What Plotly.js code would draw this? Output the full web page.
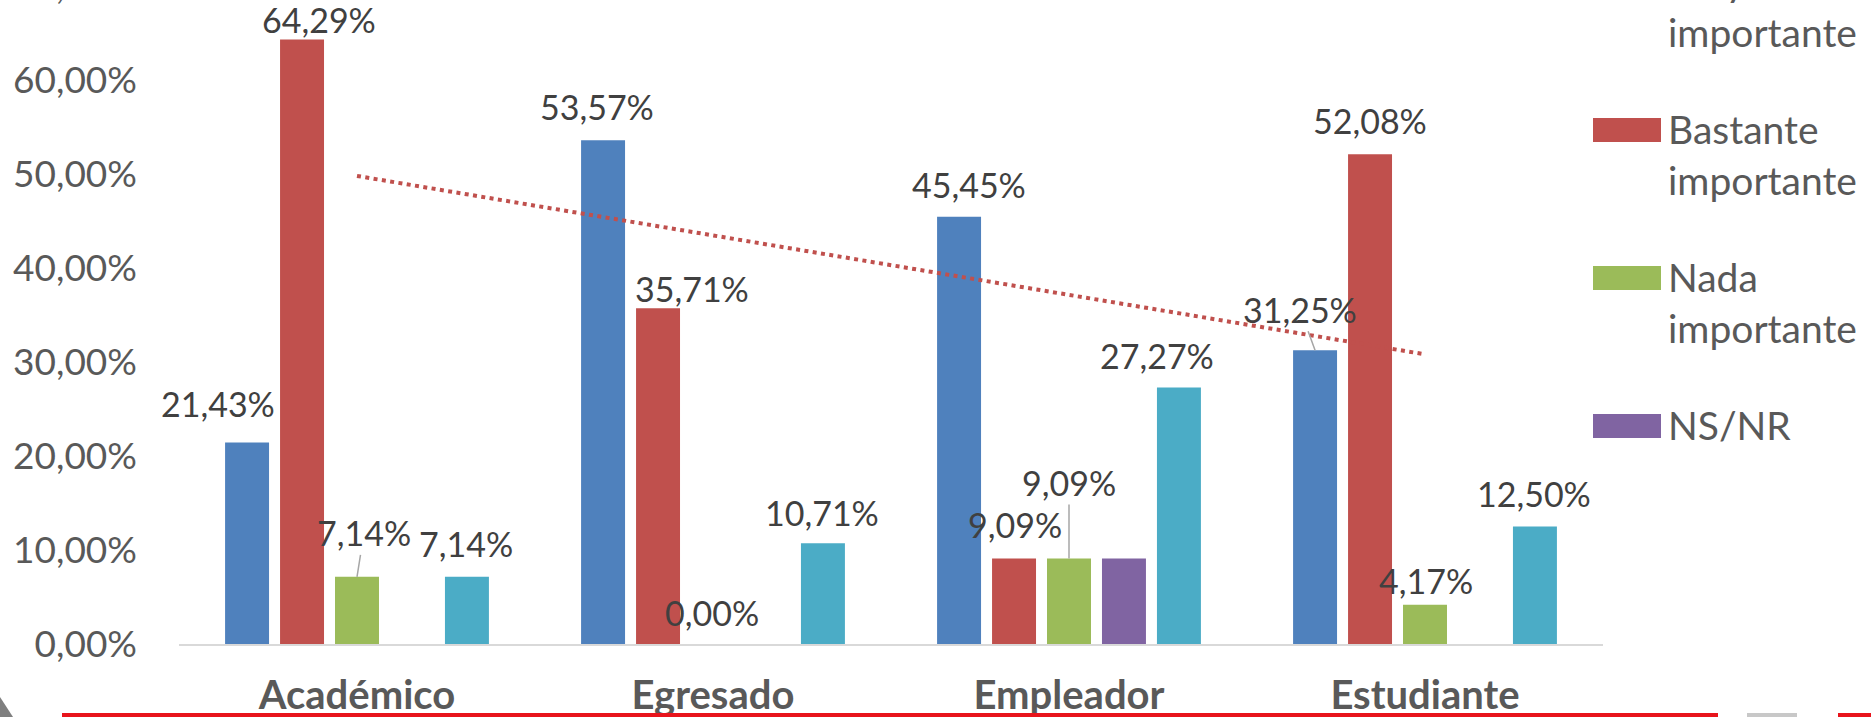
<!DOCTYPE html>
<html>
<head>
<meta charset="utf-8">
<script src="https://cdn.plot.ly/plotly-3.0.1.min.js"></script>
<style>
  html, body { margin: 0; padding: 0; width: 1871px; height: 717px; overflow: hidden; background: #ffffff; }
  #chart { position: absolute; left: 0; top: -60px; width: 1871px; height: 777px; }
  .deco { position: absolute; }
</style>
</head>
<body>
<div id="chart"></div>
<div class="deco" style="left:62px; top:713px; width:1656px; height:4px; background:#e8141c;"></div>
<div class="deco" style="left:1747px; top:713px; width:50px; height:4px; background:#c8c8c8;"></div>
<div class="deco" style="left:1838px; top:713px; width:33px; height:4px; background:#e8141c;"></div>
<div class="deco" style="left:0px; top:697px; width:13px; height:20px; background:#7f7f7f; clip-path: polygon(0 0, 100% 100%, 0 100%);"></div>
<script>
// ---- data ----
const categories = ['Académico', 'Egresado', 'Empleador', 'Estudiante'];
const muyImportante = [21.43, 53.57, 45.45, 31.25];
const bastanteImportante = [64.29, 35.71, 9.09, 52.08];
const nadaImportante = [7.14, 0.00, 9.09, 4.17];
const nsnr = [null, null, 9.09, null];
const pocoImportante = [7.14, 10.71, 27.27, 12.50];
const yTickValues = [0, 10, 20, 30, 40, 50, 60, 70];

const seriesNames = ['Muy importante', 'Bastante importante', 'Nada importante', 'NS/NR', 'Poco importante'];
const seriesValues = [muyImportante, bastanteImportante, nadaImportante, nsnr, pocoImportante];
const seriesColors = ['#4f81bd', '#c0504d', '#9bbb59', '#8064a2', '#4bacc6'];

// label placement (pixels, relative to bar top centre) and which labels carry a leader line
const labelDx = [[-29, -6, 10, -15], [17, 34, 1, 0], [7, -1, 0, 1], [0, 0, 0, 0], [-1, -1, -22, -1]];
const labelDy = [[-39, -34, -32, -41], [-20, -20, -34, -34], [-44, -32, -76, -24], [0, 0, 0, 0], [-33, -31, -32, -33]];
const labelLeader = [[false, false, false, true], [false, false, false, false], [true, false, true, false], [false, false, false, false], [false, false, false, false]];
const labelShown = [[true, true, true, true], [true, true, true, true], [true, true, true, true], [false, false, false, false], [true, true, true, true]];

// ---- geometry ----
const W = 1871, H = 777;
const M = { l: 179, r: 268, t: 27, b: 73 };
const plotW = W - M.l - M.r, plotH = H - M.t - M.b;
const bargap = 0.228;
const slotPx = plotW / categories.length * (1 - bargap) / seriesNames.length;
const FONT = 'Lato, "Open Sans", "Noto Sans", sans-serif';

function fmt(v) { return v.toFixed(2).replace('.', ',') + '%'; }

const traces = seriesNames.map((name, i) => ({
  type: 'bar', name: name, x: categories, y: seriesValues[i],
  marker: { color: seriesColors[i] }, showlegend: false, hoverinfo: 'x+y+name'
}));

// linear trendline of "Bastante importante"
(function () {
  const ys = bastanteImportante, n = ys.length;
  const xm = (n - 1) / 2, ym = ys.reduce((a, b) => a + b, 0) / n;
  let sxy = 0, sxx = 0;
  ys.forEach((y, k) => { sxy += (k - xm) * (y - ym); sxx += (k - xm) * (k - xm); });
  const slope = sxy / sxx, icpt = ym - slope * xm;
  traces.push({
    type: 'scatter', mode: 'lines', x: [categories[0], categories[n - 1]],
    y: [icpt, icpt + slope * (n - 1)], line: { color: '#c0504d', width: 4, dash: '4px,4.4px' },
    showlegend: false, hoverinfo: 'skip'
  });
})();

const annotations = [];
seriesValues.forEach((vals, si) => {
  vals.forEach((v, ci) => {
    if (v === null || !labelShown[si][ci]) return;
    const slot = (si - (seriesNames.length - 1) / 2) * slotPx;
    const base = { x: categories[ci], y: v, xref: 'x', yref: 'y', text: fmt(v),
      font: { family: FONT, size: 34, color: '#404040' } };
    if (labelLeader[si][ci]) {
      annotations.push(Object.assign(base, { showarrow: true, arrowhead: 0, arrowwidth: 1.5,
        arrowcolor: '#a6a6a6', standoff: 0, xshift: slot, ax: labelDx[si][ci], ay: labelDy[si][ci] }));
    } else {
      annotations.push(Object.assign(base, { showarrow: false, xshift: slot + labelDx[si][ci],
        yshift: -labelDy[si][ci], xanchor: 'center', yanchor: 'middle' }));
    }
  });
});

// custom legend (page coordinates of Excel legend)
const legendOrder = [0, 1, 2, 3];
const legendText = ['Muy<br>importante', 'Bastante<br>importante', 'Nada<br>importante', 'NS/NR'];
const legendCenters = [-18, 130, 278, 426];
const shapes = [];
function pxX(X) { return (X - M.l) / plotW; }
function pxY(pageY) { return (H - M.b - (pageY + 60)) / plotH; }
legendOrder.forEach((si, k) => {
  const c = legendCenters[k];
  shapes.push({ type: 'rect', xref: 'paper', yref: 'paper', x0: pxX(1593), x1: pxX(1661),
    y0: pxY(c + 12), y1: pxY(c - 12), fillcolor: seriesColors[si], line: { width: 0 } });
  annotations.push({ xref: 'paper', yref: 'paper', x: pxX(1666), y: pxY(c - 26), xanchor: 'left', yanchor: 'top',
    align: 'left', showarrow: false, text: legendText[k], font: { family: FONT, size: 39, color: '#595959' } });
});

const layout = {
  width: W, height: H, margin: M,
  paper_bgcolor: '#ffffff', plot_bgcolor: '#ffffff',
  showlegend: false,
  barmode: 'group', bargap: bargap, bargroupgap: 0.2,
  xaxis: { type: 'category', range: [-0.5, categories.length - 0.5], autorange: false,
    showgrid: false, zeroline: false, showline: true, linecolor: '#d9d9d9', linewidth: 2,
    ticks: '', ticklabelstandoff: 15,
    tickfont: { family: FONT, size: 40, color: '#595959', weight: 'bold' } },
  yaxis: { range: [0, 72], autorange: false, tickmode: 'array', tickvals: yTickValues,
    ticktext: yTickValues.map(fmt), showgrid: false,
    zeroline: false, showline: false, ticks: '', ticklabelstandoff: 41,
    tickfont: { family: FONT, size: 37, color: '#595959' } },
  shapes: shapes, annotations: annotations
};

Plotly.newPlot('chart', traces, layout, { staticPlot: true, displayModeBar: false });
</script>
</body>
</html>
